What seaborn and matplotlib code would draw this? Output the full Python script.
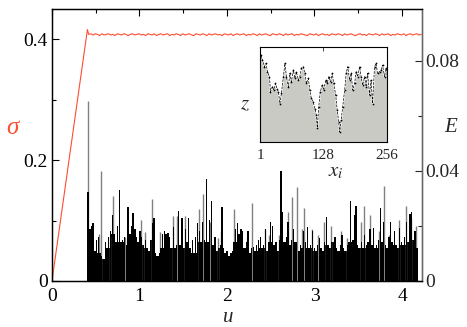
import numpy as np
import pandas as pd
import matplotlib
matplotlib.use("Agg")
import matplotlib.pyplot as plt
from matplotlib import font_manager
import seaborn as sns
from matplotlib.ticker import MultipleLocator, FixedLocator

# ---------------- data ----------------
u_ramp = [0.0, 0.405]
sigma_ramp = [0.0, 0.416]
u_plateau_start, u_plateau_step = 0.42, 0.025
sigma_plateau = [
    0.408, 0.409, 0.407, 0.409, 0.408, 0.406, 0.409, 0.407, 0.408, 0.409,
    0.407, 0.408, 0.406, 0.409, 0.408, 0.407, 0.409, 0.408, 0.406, 0.408,
    0.409, 0.407, 0.408, 0.409, 0.407, 0.408, 0.406, 0.409, 0.408, 0.407,
    0.409, 0.406, 0.408, 0.409, 0.407, 0.408, 0.409, 0.406, 0.408, 0.407,
    0.409, 0.408, 0.406, 0.409, 0.407, 0.408, 0.409, 0.407, 0.406, 0.409,
    0.408, 0.407, 0.409, 0.408, 0.406, 0.409, 0.407, 0.408, 0.409, 0.407,
    0.408, 0.406, 0.409, 0.408, 0.407, 0.409, 0.406, 0.408, 0.409, 0.407,
    0.408, 0.409, 0.406, 0.408, 0.407, 0.409, 0.408, 0.406, 0.409, 0.407,
    0.408, 0.409, 0.407, 0.406, 0.409, 0.408, 0.407, 0.409, 0.408, 0.406,
    0.409, 0.407, 0.408, 0.409, 0.406, 0.408, 0.407, 0.409, 0.408, 0.407,
    0.406, 0.409, 0.408, 0.407, 0.409, 0.406, 0.408, 0.409, 0.407, 0.408,
    0.406, 0.409, 0.408, 0.407, 0.409, 0.408, 0.406, 0.409, 0.407, 0.408,
    0.409, 0.407, 0.406, 0.408, 0.409, 0.407, 0.408, 0.406, 0.409, 0.408,
    0.407, 0.409, 0.408, 0.406, 0.409, 0.407, 0.408, 0.409, 0.406, 0.408,
    0.407, 0.409, 0.408, 0.407, 0.409, 0.406, 0.408, 0.409, 0.407, 0.408,
    0.409, 0.407, 0.408,
]

E_start, E_end = 0.41, 4.17
E_black = [
    0.0325, 0.019, 0.020, 0.021, 0.011, 0.015, 0.016, 0.010, 0.009, 0.008,
    0.014, 0.012, 0.016, 0.018, 0.024, 0.017, 0.014, 0.020, 0.033, 0.014,
    0.015, 0.016, 0.013, 0.027, 0.017, 0.020, 0.0247, 0.019, 0.016, 0.014,
    0.018, 0.016, 0.013, 0.015, 0.012, 0.011, 0.015, 0.021, 0.0228, 0.010,
    0.009, 0.010, 0.012, 0.017, 0.018, 0.017, 0.0175, 0.016, 0.012, 0.0197,
    0.012, 0.013, 0.0255, 0.013, 0.0228, 0.012, 0.019, 0.014, 0.0228, 0.012,
    0.015, 0.010, 0.016, 0.021, 0.018, 0.014, 0.0216, 0.015, 0.037, 0.014,
    0.022, 0.029, 0.013, 0.016, 0.011, 0.012, 0.013, 0.027, 0.012, 0.010,
    0.011, 0.009, 0.010, 0.011, 0.014, 0.019, 0.021, 0.017, 0.019, 0.018,
    0.012, 0.014, 0.018, 0.010, 0.012, 0.0125, 0.011, 0.013, 0.015, 0.016,
    0.012, 0.013, 0.019, 0.011, 0.014, 0.0216, 0.020, 0.013, 0.014, 0.011,
    0.015, 0.040, 0.025, 0.014, 0.016, 0.0216, 0.013, 0.015, 0.019, 0.014,
    0.014, 0.011, 0.013, 0.012, 0.018, 0.014, 0.0197, 0.012, 0.013, 0.018,
    0.012, 0.011, 0.013, 0.0155, 0.012, 0.011, 0.014, 0.0234, 0.013, 0.012,
    0.0143, 0.0143, 0.016, 0.012, 0.011, 0.013, 0.0167, 0.012, 0.011, 0.013,
    0.014, 0.029, 0.015, 0.024, 0.0274, 0.013, 0.012, 0.014, 0.012, 0.0167,
    0.013, 0.014, 0.019, 0.013, 0.0191, 0.012, 0.013, 0.015, 0.0264, 0.014,
    0.0216, 0.013, 0.012, 0.016, 0.0216, 0.014, 0.018, 0.013, 0.012, 0.0191,
    0.014, 0.013, 0.016, 0.0216, 0.014, 0.0243, 0.025, 0.015, 0.018, 0.012,
]

u_spike = [0.408, 0.537, 0.556, 0.663, 0.701, 0.834, 1.017, 1.063, 1.139, 1.234,
           1.379, 1.432, 1.524, 1.676, 1.726, 1.802, 1.897, 1.928, 2.080, 2.229,
           2.290, 2.434, 2.484, 2.598, 2.693, 2.739, 2.796, 2.853, 2.884, 2.971,
           3.036, 3.112, 3.189, 3.299, 3.375, 3.528, 3.566, 3.634, 3.737, 3.794,
           3.851, 3.966, 4.042, 4.100, 4.165]
E_spike = [0.0655, 0.017, 0.040, 0.016, 0.031, 0.016, 0.022, 0.0178, 0.0298, 0.0179,
           0.0237, 0.0237, 0.0237, 0.026, 0.0316, 0.0216, 0.0155, 0.018, 0.026, 0.0155,
           0.0285, 0.019, 0.0167, 0.0167, 0.025, 0.0307, 0.0343, 0.019, 0.0265, 0.019,
           0.0167, 0.0216, 0.020, 0.018, 0.0155, 0.0216, 0.0274, 0.024, 0.018, 0.0347,
           0.0167, 0.022, 0.0274, 0.023, 0.020]

x_i = [1, 3, 6, 10, 13, 16, 20, 22, 26, 29, 32, 35, 38, 41, 44, 48, 51, 54, 58, 61,
       64, 68, 71, 74, 78, 81, 84, 88, 91, 94, 98, 101, 104, 108, 111, 114, 116, 119,
       122, 126, 129, 133, 136, 139, 143, 146, 149, 153, 156, 159, 161, 164, 167, 171,
       174, 177, 181, 184, 187, 191, 194, 197, 201, 204, 207, 211, 214, 217, 221, 224,
       227, 231, 234, 237, 241, 244, 247, 251, 254, 256]
z_prof = [0.88, 0.915, 0.863, 0.792, 0.827, 0.739, 0.687, 0.528, 0.581, 0.546,
          0.616, 0.563, 0.528, 0.405, 0.511, 0.687, 0.827, 0.687, 0.581, 0.722,
          0.634, 0.757, 0.669, 0.739, 0.651, 0.687, 0.775, 0.792, 0.722, 0.616,
          0.669, 0.546, 0.458, 0.423, 0.352, 0.282, 0.151, 0.370, 0.528, 0.599,
          0.546, 0.651, 0.616, 0.687, 0.634, 0.722, 0.616, 0.493, 0.335, 0.211,
          0.106, 0.229, 0.370, 0.546, 0.722, 0.792, 0.651, 0.722, 0.546, 0.616,
          0.739, 0.687, 0.792, 0.687, 0.599, 0.687, 0.581, 0.722, 0.493, 0.651,
          0.405, 0.792, 0.827, 0.722, 0.739, 0.757, 0.810, 0.687, 0.775, 0.72]

u_ticks = [0, 1, 2, 3, 4]
sigma_ticks = [0, 0.2, 0.4]
E_ticks = [0, 0.04, 0.08]
inset_ticks = [1, 128, 256]

# ---------------- style ----------------
sns.set_style("ticks")
available = {f.name for f in font_manager.fontManager.ttflist}
serif = next((n for n in ["Liberation Serif", "Times New Roman", "Nimbus Roman",
                          "STIXGeneral", "DejaVu Serif"] if n in available), "serif")
plt.rcParams["font.family"] = [serif, "DejaVu Serif"]
plt.rcParams["mathtext.fontset"] = "stix"

RED = "#ff4c33"
FS = 14

fig = plt.figure(figsize=(4.67, 3.27), dpi=100)
ax = fig.add_axes([0.1113, 0.1407, 0.7913, 0.8318])
ax2 = ax.twinx()

u_sigma = np.concatenate([u_ramp, u_plateau_start + u_plateau_step * np.arange(len(sigma_plateau))])
sig = np.concatenate([sigma_ramp, sigma_plateau])
sns.lineplot(x=u_sigma, y=sig, ax=ax, color=RED, lw=0.8, sort=False, zorder=5)

u_E = np.linspace(E_start, E_end, len(E_black))
step = u_E[1] - u_E[0]
E_arr = np.array(E_black)
floor = pd.Series(E_arr).rolling(3, center=True, min_periods=1).min().to_numpy()
ax2.bar(u_E, floor, width=step * 1.02, color="black", linewidth=0, zorder=2)
ax2.bar(u_E, E_arr, width=step * 0.75, color="black", linewidth=0, zorder=3)
ax2.vlines(u_spike, 0, E_spike, color="#808080", lw=1.0, zorder=2.5)

ax.set_xlim(0, 4.223)
ax.set_ylim(0, 0.45)
ax2.set_ylim(0, 0.0989)
ax.xaxis.set_major_locator(FixedLocator(u_ticks))
ax.xaxis.set_minor_locator(MultipleLocator(0.5))
ax.yaxis.set_major_locator(FixedLocator(sigma_ticks))
ax.yaxis.set_minor_locator(MultipleLocator(0.1))
ax2.yaxis.set_major_locator(FixedLocator(E_ticks))
ax2.yaxis.set_minor_locator(MultipleLocator(0.02))
ax.set_xticklabels([str(t) for t in u_ticks])
ax.set_yticklabels(["0", "0.2", "0.4"])
ax2.set_yticklabels(["0", "0.04", "0.08"])

ax.tick_params(which="both", direction="in", top=True, bottom=True, left=True, right=False,
               labelsize=FS, colors="black")
ax.tick_params(which="major", length=5, width=0.8)
ax.tick_params(which="minor", length=3, width=0.8)
ax.tick_params(axis="x", pad=5)
ax.tick_params(axis="y", pad=3)
ax2.tick_params(which="both", direction="in", right=True, left=False, labelsize=FS, pad=3)
ax2.tick_params(which="major", length=5, width=0.8)
ax2.tick_params(which="minor", length=3, width=0.8)
for a in (ax, ax2):
    for s in a.spines.values():
        s.set_linewidth(0.9)
        s.set_color("black")
ax2.spines["right"].set_color("#666666")

ax.set_xlabel("u", fontsize=FS + 1, style="italic")
ax.xaxis.set_label_coords(0.476, -0.100)
ax.set_ylabel("σ", fontsize=18, style="italic", color=RED, rotation=0, va="center", ha="center")
ax.yaxis.set_label_coords(-0.106, 0.5625)
ax2.set_ylabel("E", fontsize=FS + 1, style="italic", rotation=0, va="center", ha="center")
ax2.yaxis.set_label_coords(1.08, 0.5625)

axin = fig.add_axes([260 / 467, 1 - 142 / 327, 127 / 467, 95 / 327])
axin.set_facecolor("white")
axin.fill_between(x_i, 0, z_prof, color="#c9cac4", linewidth=0)
axin.plot(x_i, z_prof, color="white", lw=1.2, zorder=2)
sns.lineplot(x=x_i, y=z_prof, ax=axin, color="black", lw=0.5, linestyle="--",
             marker=".", markersize=2.5, markeredgewidth=0, sort=False, zorder=3)
axin.set_xlim(1, 256)
axin.set_ylim(0, 1)
axin.xaxis.set_major_locator(FixedLocator(inset_ticks))
axin.set_xticklabels([str(t) for t in inset_ticks])
axin.set_yticks([])
axin.tick_params(axis="x", direction="in", top=True, bottom=True, length=3, width=0.6,
                 labelsize=11, pad=5)
for s in axin.spines.values():
    s.set_linewidth(0.8)
    s.set_color("black")
axin.set_xlabel("$x_i$", fontsize=15)
axin.xaxis.set_label_coords(0.60, -0.21)
axin.set_ylabel("$z$", fontsize=15, rotation=0, va="center", ha="center")
axin.yaxis.set_label_coords(-0.118, 0.39)

fig.savefig("out.png", dpi=100)
